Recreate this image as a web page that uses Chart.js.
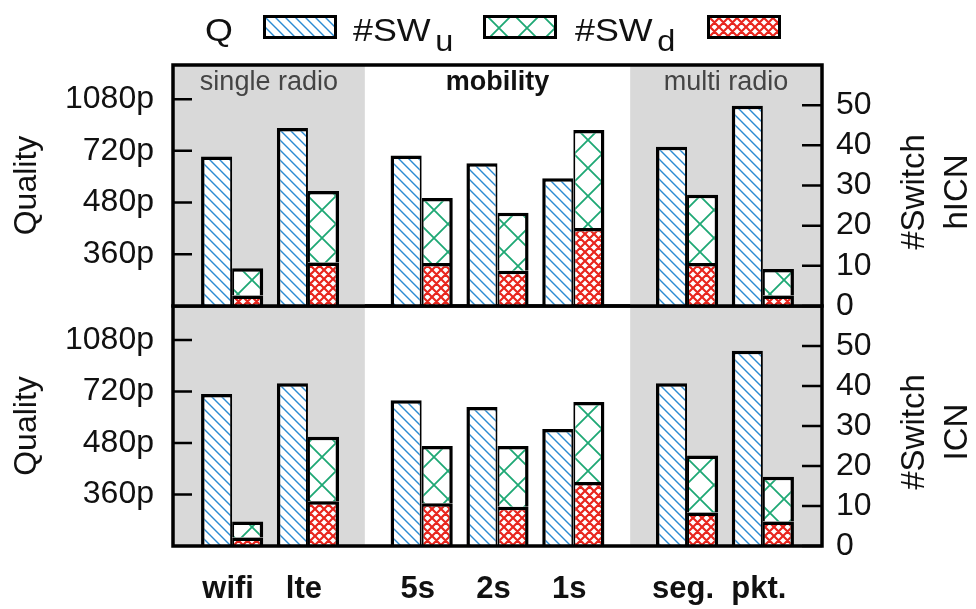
<!DOCTYPE html>
<html>
<head>
<meta charset="utf-8">
<script src="https://cdn.jsdelivr.net/npm/chart.js@4.4.1/dist/chart.umd.min.js"></script>
<style>
  html, body { margin: 0; padding: 0; background: #fff; }
  #wrap { position: relative; width: 976px; height: 609px; overflow: hidden; font-family: "Liberation Sans", Arial, sans-serif; color: #111; }
  #wrap canvas { position: absolute; left: 0; }
  .leg { position: absolute; top: 14px; font-size: 32px; line-height: 32px; white-space: nowrap; transform: scaleX(1.12); transform-origin: 0 0; }
  .leg sub { font-size: 29px; vertical-align: -10px; margin-left: 4px; line-height: 0; }
  .sw { position: absolute; top: 15px; width: 68px; height: 18px; border: 3.5px solid #000; }
  .rt { position: absolute; width: 240px; text-align: center; font-size: 33px; line-height: 43px; transform: translate(-50%, -50%) rotate(-90deg); }
</style>
</head>
<body>
<div id="wrap">
  <canvas id="chartBot" width="976" height="334" style="top:275px"></canvas>
  <canvas id="chartTop" width="976" height="337" style="top:0px"></canvas>

  <span class="leg" style="left:205px">Q</span>
  <div class="sw" id="swQ" style="left:263px"></div>
  <span class="leg" style="left:353px">#SW<sub>u</sub></span>
  <div class="sw" id="swU" style="left:483px"></div>
  <span class="leg" style="left:575px">#SW<sub>d</sub></span>
  <div class="sw" id="swD" style="left:707px"></div>

  <div class="rt" style="left:934px; top:192px">#Switch<br>hICN</div>
  <div class="rt" style="left:934px; top:432px">#Switch<br>ICN</div>
</div>

<script>
// categories and groups
const categories = ["wifi", "lte", "5s", "2s", "1s", "seg.", "pkt."];
const regionNames = ["single radio", "mobility", "multi radio"];
const regionSizes = [2, 3, 2];
const shadedRegions = [true, false, true];

// tick labels
const qualityTicks = [1, 2, 3, 4];
const qualityLabels = ["360p", "480p", "720p", "1080p"];
const switchTicks = [0, 10, 20, 30, 40, 50];

// hICN (top panel)
const qHicn = [2.89, 3.44, 2.91, 2.76, 2.47, 3.08, 3.87];
const swDownHicn = [2.6, 10.8, 10.7, 8.8, 19.4, 10.7, 2.6];
const swUpHicn = [6.8, 17.8, 16.2, 14.4, 24.4, 17.0, 6.6];

// ICN (bottom panel)
const qIcn = [2.95, 3.16, 2.83, 2.70, 2.27, 3.16, 3.79];
const swDownIcn = [2.1, 11.2, 10.7, 9.8, 16.0, 8.4, 6.1];
const swUpIcn = [4.0, 16.1, 14.3, 15.2, 20.0, 14.2, 11.2];

const FONT = "'Liberation Sans', Arial, sans-serif";
Chart.defaults.font.family = FONT;
Chart.defaults.color = "#111";

// x position of each category, groups separated by a wider gap
const GAP = 1.5;
const xPos = [];
let cur = 0;
regionSizes.forEach((n) => {
  for (let i = 0; i < n; i++) { xPos.push(cur); cur += 1; }
  cur += GAP - 1;
});

// hatch patterns
function makeTile(size, color, width, both) {
  const c = document.createElement("canvas");
  c.width = size; c.height = size;
  const g = c.getContext("2d");
  g.fillStyle = "#fff";
  g.fillRect(0, 0, size, size);
  g.strokeStyle = color;
  g.lineWidth = width;
  g.beginPath();
  for (let k = -1; k <= 1; k++) {
    g.moveTo(k * size - 1, -1); g.lineTo(k * size + size + 1, size + 1);
    if (both) { g.moveTo(k * size + size + 1, -1); g.lineTo(k * size - 1, size + 1); }
  }
  g.stroke();
  return c;
}
const tileQ = makeTile(10, "#2b8ad2", 1.4, false);
const tileU = makeTile(28, "#1ea874", 1.8, true);
const tileD = makeTile(9, "#e8261e", 2.2, true);
const helper = document.createElement("canvas").getContext("2d");
const patQ = helper.createPattern(tileQ, "repeat");
const patU = helper.createPattern(tileU, "repeat");
const patD = helper.createPattern(tileD, "repeat");

document.getElementById("swQ").style.background = "url(" + tileQ.toDataURL() + ")";
document.getElementById("swU").style.background = "url(" + tileU.toDataURL() + ") -1px -4px";
document.getElementById("swD").style.background = "url(" + tileD.toDataURL() + ")";

// shading, region labels, inward ticks and frame
const panelDecor = {
  id: "panelDecor",
  beforeDatasetsDraw(chart, args, opts) {
    const { ctx, chartArea: a, scales } = chart;
    const x = scales.x;
    ctx.save();
    let start = 0;
    regionSizes.forEach((n, r) => {
      const first = start, last = start + n - 1;
      const left = r === 0 ? a.left : x.getPixelForValue((xPos[first - 1] + xPos[first]) / 2);
      const right = r === regionSizes.length - 1 ? a.right : x.getPixelForValue((xPos[last] + xPos[last + 1]) / 2);
      if (shadedRegions[r]) {
        ctx.fillStyle = "#d9d9d9";
        ctx.fillRect(left, a.top, right - left, a.bottom - a.top);
      }
      if (opts.labels) {
        ctx.font = (shadedRegions[r] ? "" : "bold ") + "27px " + FONT;
        ctx.fillStyle = shadedRegions[r] ? "#444" : "#111";
        ctx.textAlign = "center";
        ctx.textBaseline = "middle";
        ctx.fillText(regionNames[r], (left + right) / 2, a.top + 18);
      }
      start += n;
    });
    ctx.restore();
  },
  afterDatasetsDraw(chart) {
    const { ctx, chartArea: a, scales } = chart;
    ctx.save();
    ctx.strokeStyle = "#000";
    ctx.lineWidth = 2.5;
    ctx.beginPath();
    qualityTicks.forEach((v) => {
      const y = scales.yq.getPixelForValue(v);
      ctx.moveTo(a.left, y); ctx.lineTo(a.left + 19, y);
    });
    switchTicks.forEach((v) => {
      const y = scales.ysw.getPixelForValue(v);
      ctx.moveTo(a.right - 20, y); ctx.lineTo(a.right, y);
    });
    ctx.stroke();
    ctx.lineWidth = 3.5;
    ctx.strokeRect(a.left, a.top, a.right - a.left, a.bottom - a.top);
    ctx.restore();
  }
};

// tick label padding also pads the plot area (half label height + padding = ~30px),
// so the canvases are sized/offset to put the panels at 65-306 and 306-546
function buildPanel(canvasId, q, swDown, swUp, cfg) {
  const pts = (vals) => xPos.map((x, i) => ({ x: x, y: vals[i] }));
  return new Chart(document.getElementById(canvasId), {
    type: "bar",
    data: {
      datasets: [
        { label: "Q", data: pts(q), yAxisID: "yq", stack: "q", backgroundColor: patQ,
          borderColor: "#000", borderWidth: { top: 3.5, left: 3.5, right: 2 } },
        { label: "#SW_d", data: pts(swDown), yAxisID: "ysw", stack: "sw", backgroundColor: patD,
          borderColor: "#000", borderWidth: { top: 3.5, left: 2, right: 3.5 } },
        { label: "#SW_u", data: pts(swUp), yAxisID: "ysw", stack: "sw", backgroundColor: patU,
          borderColor: "#000", borderWidth: { top: 3.5, left: 2, right: 3.5 } }
      ]
    },
    options: {
      responsive: false,
      animation: false,
      devicePixelRatio: 1,
      layout: { padding: cfg.padding },
      datasets: { bar: { categoryPercentage: 0.82, barPercentage: 1 } },
      plugins: {
        legend: { display: false },
        tooltip: { enabled: false },
        panelDecor: { labels: cfg.labels }
      },
      scales: {
        x: {
          type: "linear", min: -0.78, max: 7.78, stacked: true, offset: false,
          display: cfg.xLabels,
          grid: { display: false }, border: { display: false },
          afterBuildTicks: (s) => { s.ticks = xPos.map((v) => ({ value: v })); },
          afterFit: (s) => { s.height = cfg.xLabels ? 63 : 0; },
          ticks: {
            autoSkip: false, maxRotation: 0, minRotation: 0, padding: 17, labelOffset: -4,
            font: { size: 31, weight: "bold" },
            callback: (v, i) => categories[i]
          }
        },
        yq: {
          position: "left", min: 0, max: 4.66,
          grid: { display: false }, border: { display: false },
          afterBuildTicks: (s) => { s.ticks = qualityTicks.map((v) => ({ value: v })); },
          afterFit: (s) => { s.width = 173; },
          ticks: { autoSkip: false, padding: 11, font: { size: 32 }, callback: (v, i) => qualityLabels[i] },
          title: { display: true, text: "Quality", font: { size: 32 }, padding: { top: 8, bottom: 0 } }
        },
        ysw: {
          position: "right", min: 0, max: 60, stacked: true,
          grid: { display: false }, border: { display: false },
          afterBuildTicks: (s) => { s.ticks = switchTicks.map((v) => ({ value: v })); },
          afterFit: (s) => { s.width = 154; },
          ticks: { autoSkip: false, padding: 6, font: { size: 32 } }
        }
      }
    },
    plugins: [panelDecor]
  });
}

buildPanel("chartTop", qHicn, swDownHicn, swUpHicn, { padding: { top: 65, bottom: 31 }, labels: true, xLabels: false });
buildPanel("chartBot", qIcn, swDownIcn, swUpIcn, { padding: { top: 31, bottom: 0 }, labels: false, xLabels: true });
</script>
</body>
</html>
